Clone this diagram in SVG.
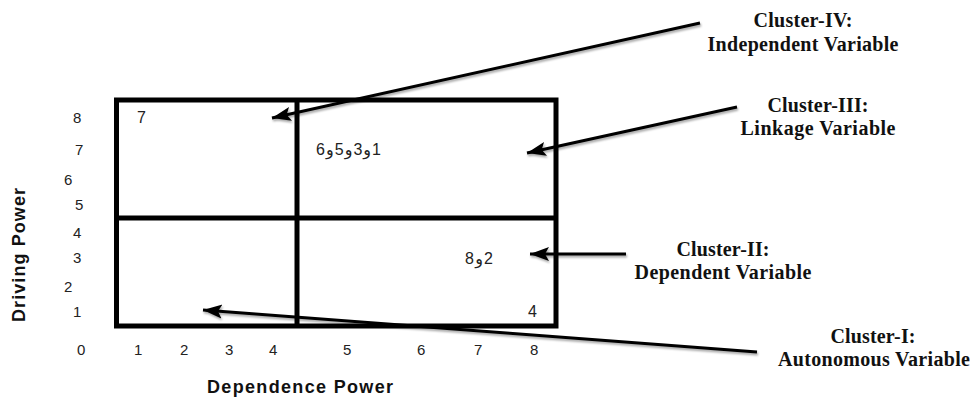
<svg xmlns="http://www.w3.org/2000/svg" width="975" height="399" viewBox="0 0 975 399">
<style>
.num{font-family:"Liberation Sans","DejaVu Sans",sans-serif;font-size:15px;fill:#222}
.inq{font-family:"Liberation Sans","DejaVu Sans",sans-serif;font-size:16px;fill:#222}
.lab{font-family:"Liberation Serif","Times New Roman",serif;font-weight:bold;font-size:20px;fill:#111;text-anchor:middle}
.axis{font-family:"Liberation Sans",Arial,sans-serif;font-weight:bold;font-size:18px;fill:#111;text-anchor:middle}
.grid{fill:none;stroke:#000;stroke-width:5}
.conn{stroke:#000;stroke-width:3;fill:none;marker-end:url(#ah);filter:url(#sh)}
</style>
<defs>
<marker id="ah" markerUnits="userSpaceOnUse" markerWidth="20" markerHeight="16" viewBox="0 0 20 16" refX="19" refY="8" orient="auto">
<path d="M0,1 L19,8 L0,15 L4,8 Z" fill="#000"/>
</marker>
<filter id="sh" filterUnits="userSpaceOnUse" x="0" y="0" width="975" height="399">
<feDropShadow dx="1" dy="2" stdDeviation="1" flood-color="#000" flood-opacity="0.35"/>
</filter>
</defs>
<g id="matrix">
<rect class="grid" x="116.5" y="100" width="439.5" height="226"/>
<line class="grid" x1="297" y1="100" x2="297" y2="326"/>
<line class="grid" x1="116.5" y1="218" x2="556" y2="218"/>
</g>
<g id="y-axis">
<text class="num" x="73" y="123">8</text>
<text class="num" x="75" y="155">7</text>
<text class="num" x="64" y="185">6</text>
<text class="num" x="75" y="210">5</text>
<text class="num" x="73" y="238">4</text>
<text class="num" x="73" y="263">3</text>
<text class="num" x="64" y="292">2</text>
<text class="num" x="73" y="317">1</text>
<text class="num" x="77" y="355">0</text>
<text class="axis" transform="translate(25,255) rotate(-90)" textLength="134" lengthAdjust="spacing">Driving Power</text>
</g>
<g id="x-axis">
<text class="num" x="134" y="355">1</text>
<text class="num" x="180" y="355">2</text>
<text class="num" x="225" y="355">3</text>
<text class="num" x="269" y="355">4</text>
<text class="num" x="343" y="355">5</text>
<text class="num" x="417" y="355">6</text>
<text class="num" x="474" y="355">7</text>
<text class="num" x="530" y="355">8</text>
<text class="axis" x="300" y="393" textLength="186" lengthAdjust="spacing">Dependence Power</text>
</g>
<g id="cell-values">
<text class="inq" x="137" y="123">7</text>
<text class="inq" x="316" y="155" direction="ltr" unicode-bidi="bidi-override" textLength="65" lengthAdjust="spacing">6و5و3و1</text>
<text class="inq" x="465" y="264" direction="ltr" unicode-bidi="bidi-override" textLength="28" lengthAdjust="spacing">8و2</text>
<text class="inq" x="528" y="317">4</text>
</g>
<g id="connectors">
<line class="conn" x1="700" y1="23" x2="272" y2="118"/>
<line class="conn" x1="737" y1="107" x2="527" y2="153"/>
<line class="conn" x1="626" y1="254" x2="530" y2="254"/>
<line class="conn" x1="757" y1="352" x2="203" y2="310"/>
</g>
<g id="cluster-iv">
<text class="lab" x="803" y="27" textLength="99" lengthAdjust="spacing">Cluster-IV:</text>
<text class="lab" x="803" y="51" textLength="191" lengthAdjust="spacing">Independent Variable</text>
</g>
<g id="cluster-iii">
<text class="lab" x="818" y="112" textLength="101" lengthAdjust="spacing">Cluster-III:</text>
<text class="lab" x="818" y="135" textLength="155" lengthAdjust="spacing">Linkage Variable</text>
</g>
<g id="cluster-ii">
<text class="lab" x="723" y="256" textLength="93" lengthAdjust="spacing">Cluster-II:</text>
<text class="lab" x="723" y="279" textLength="177" lengthAdjust="spacing">Dependent Variable</text>
</g>
<g id="cluster-i">
<text class="lab" x="873" y="343" textLength="85" lengthAdjust="spacing">Cluster-I:</text>
<text class="lab" x="874" y="366" textLength="192" lengthAdjust="spacing">Autonomous Variable</text>
</g>
</svg>
